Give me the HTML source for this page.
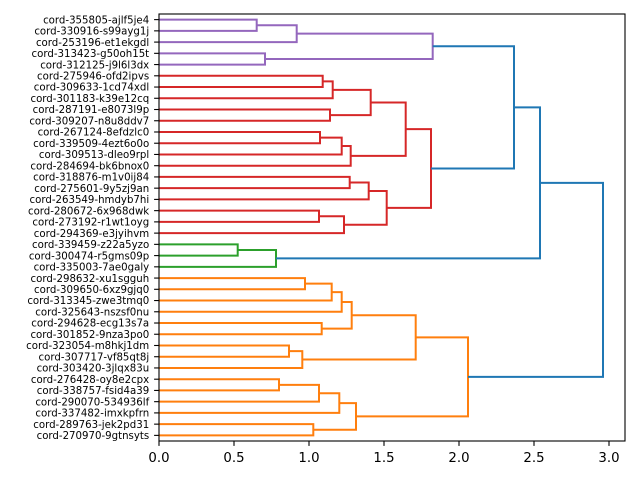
<!DOCTYPE html>
<html><head><meta charset="utf-8"><style>
html,body{margin:0;padding:0;background:#fff;}
svg{display:block;font-family:"DejaVu Sans","Liberation Sans",sans-serif;}
</style></head><body>
<svg id="s" width="640" height="480" xmlns="http://www.w3.org/2000/svg"></svg>
<script>
var labels=["cord-355805-ajlf5je4","cord-330916-s99ayg1j","cord-253196-et1ekgdl","cord-313423-g50oh15t","cord-312125-j9l6l3dx","cord-275946-ofd2ipvs","cord-309633-1cd74xdl","cord-301183-k39e12cq","cord-287191-e8073l9p","cord-309207-n8u8ddv7","cord-267124-8efdzlc0","cord-339509-4ezt6o0o","cord-309513-dleo9rpl","cord-284694-bk6bnox0","cord-318876-m1v0ij84","cord-275601-9y5zj9an","cord-263549-hmdyb7hi","cord-280672-6x968dwk","cord-273192-r1wt1oyg","cord-294369-e3jyihvm","cord-339459-z22a5yzo","cord-300474-r5gms09p","cord-335003-7ae0galy","cord-298632-xu1sgguh","cord-309650-6xz9gjq0","cord-313345-zwe3tmq0","cord-325643-nszsf0nu","cord-294628-ecg13s7a","cord-301852-9nza3po0","cord-323054-m8hkj1dm","cord-307717-vf85qt8j","cord-303420-3jlqx83u","cord-276428-oy8e2cpx","cord-338757-fsid4a39","cord-290070-534936lf","cord-337482-imxkpfrn","cord-289763-jek2pd31","cord-270970-9gtnsyts"];
var L=159,R=625,T=14,B=441;
function ly(i){return T+(5+10*i)*(B-T)/380;}
var P="#9467bd",Rd="#d62728",G="#2ca02c",O="#ff7f0e",Bl="#1f77b4";
var out="";
function leaf(i){return {x:L,y:ly(i)};}
function m(a,b,X,c){out+='<path d="M'+a.x+' '+a.y+'H'+X+'V'+b.y+'H'+b.x+'" fill="none" stroke="'+c+'" stroke-width="2"/>';return {x:X,y:(a.y+b.y)/2};}
var l=leaf;
var p1=m(m(l(0),l(1),256.7,P),l(2),296.7,P);
var p2=m(l(3),l(4),265,P);
var pur=m(p1,p2,432.7,P);
var r1=m(m(m(l(5),l(6),322.7,Rd),l(7),332.7,Rd),m(l(8),l(9),330,Rd),370.7,Rd);
var r2=m(m(m(l(10),l(11),320,Rd),l(12),341.7,Rd),l(13),350.7,Rd);
var ra=m(r1,r2,405.7,Rd);
var r3=m(m(l(14),l(15),349.7,Rd),l(16),368.7,Rd);
var r4=m(m(l(17),l(18),319,Rd),l(19),344,Rd);
var rb=m(r3,r4,386.7,Rd);
var red=m(ra,rb,431,Rd);
var b1=m(pur,red,514,Bl);
var gr=m(m(l(20),l(21),237.7,G),l(22),276,G);
var b2=m(b1,gr,540,Bl);
var o1=m(m(m(l(23),l(24),305,O),l(25),331.7,O),l(26),341.7,O);
var o2=m(l(27),l(28),321.7,O);
var o3=m(o1,o2,351.7,O);
var o4=m(m(l(29),l(30),289,O),l(31),302.3,O);
var oa=m(o3,o4,415.7,O);
var o5=m(m(m(l(32),l(33),279,O),l(34),319,O),l(35),339.3,O);
var o6=m(l(36),l(37),313.3,O);
var ob=m(o5,o6,356,O);
var ora=m(oa,ob,468,O);
m(b2,ora,603,Bl);
for(var i=0;i<labels.length;i++){var y=ly(i);out+='<line x1="'+L+'" x2="'+(L-4.9)+'" y1="'+y+'" y2="'+y+'" stroke="#000" stroke-width="1.1"/><text x="'+(L-9.8)+'" y="'+(y+3.7)+'" font-size="10.2" text-anchor="end">'+labels[i]+'</text>';}
for(var k=0;k<=6;k++){var v=k*0.5,x=L+v*150;out+='<line x1="'+x+'" x2="'+x+'" y1="'+B+'" y2="'+(B+4.9)+'" stroke="#000" stroke-width="1.1"/><text x="'+x+'" y="'+(B+21)+'" font-size="13.3" text-anchor="middle">'+v.toFixed(1)+'</text>';}
out+='<rect x="'+L+'" y="'+T+'" width="'+(R-L)+'" height="'+(B-T)+'" fill="none" stroke="#000" stroke-width="1.1"/>';
document.getElementById("s").innerHTML=out;
</script>
</body></html>
